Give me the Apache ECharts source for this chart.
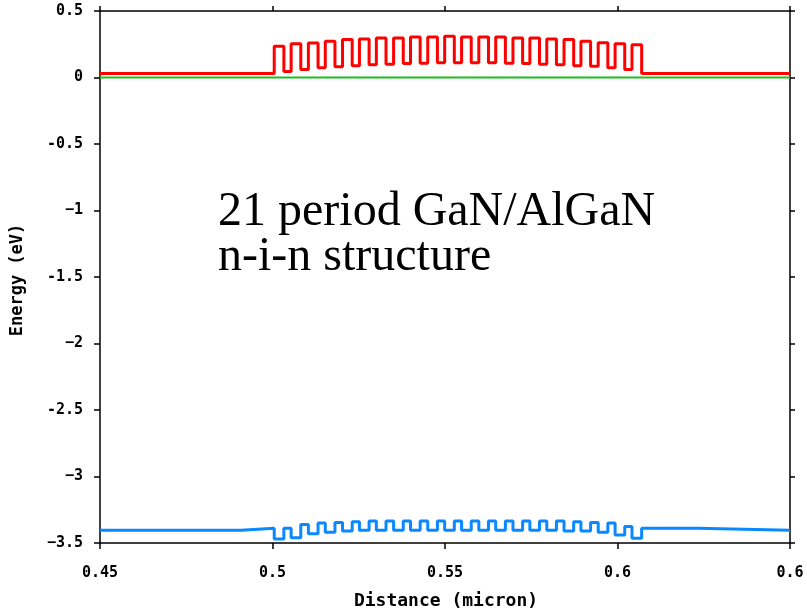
<!DOCTYPE html>
<html><head><meta charset="utf-8">
<script src="https://cdn.jsdelivr.net/npm/echarts@6/dist/echarts.min.js"></script>
<style>html,body{margin:0;padding:0;background:#fff}#c{width:807px;height:611px}</style>
</head><body><div id="c"></div><script>
// axes
const xTicks = [0.45, 0.5, 0.55, 0.6, 0.65];
const xTickLabels = ['0.45', '0.5', '0.55', '0.6', '0.6'];
const yTicks = [0.5, 0, -0.5, -1, -1.5, -2, -2.5, -3, -3.5];
const yTickLabels = ['0.5', '0', '-0.5', '\u22121', '-1.5', '\u22122', '-2.5', '\u22123', '\u22123.5'];

// structure geometry (micron)
const barrierStart = [0.5005, 0.5054, 0.5104, 0.5153, 0.5203, 0.5252, 0.5301, 0.5351, 0.5400, 0.5450, 0.5499,
                      0.5548, 0.5598, 0.5647, 0.5697, 0.5746, 0.5795, 0.5845, 0.5894, 0.5944, 0.5993, 0.6042];
const barrierWidth = 0.0028;

// conduction band (eV)
const cbBase = 0.03;
const cbBarrier = [0.235, 0.253, 0.26, 0.272, 0.285, 0.29, 0.297, 0.297, 0.305, 0.305, 0.31,
                   0.305, 0.305, 0.305, 0.297, 0.297, 0.29, 0.285, 0.272, 0.262, 0.253, 0.247];
const cbWell = [0.045, 0.06, 0.073, 0.08, 0.088, 0.095, 0.1, 0.105, 0.108, 0.11, 0.11,
                0.11, 0.11, 0.108, 0.105, 0.1, 0.095, 0.088, 0.085, 0.073, 0.06];

// valence band (eV)
const vbOuter = -3.405;
const vbInner = -3.39;
const vbInnerStart = 0.4909;
const vbInnerEnd = 0.6233;
const vbBarrier = [-3.47, -3.46, -3.43, -3.42, -3.41, -3.405, -3.405, -3.405, -3.405, -3.405, -3.405,
                   -3.405, -3.405, -3.405, -3.405, -3.405, -3.405, -3.41, -3.41, -3.42, -3.44, -3.465];
const vbWell = [-3.39, -3.36, -3.35, -3.345, -3.34, -3.335, -3.335, -3.335, -3.335, -3.335, -3.335,
                -3.335, -3.335, -3.335, -3.335, -3.335, -3.335, -3.34, -3.345, -3.35, -3.375];

// Fermi level
const fermiLevel = 0;

const xMin = 0.45, xMax = 0.65, yMin = -3.5, yMax = 0.5;

// step points: [x, level] = level that starts at x
function bandSteps(rightLevel, barriers, wells) {
  const pts = [];
  for (let i = 0; i < barrierStart.length; i++) {
    pts.push([barrierStart[i], barriers[i]]);
    pts.push([barrierStart[i] + barrierWidth, i < wells.length ? wells[i] : rightLevel]);
  }
  return pts;
}

const cbData = [[xMin, cbBase]].concat(bandSteps(cbBase, cbBarrier, cbWell), [[xMax, cbBase]]);
const vbData = [[xMin, vbOuter], [vbInnerStart, vbInner]]
  .concat(bandSteps(vbInner, vbBarrier, vbWell), [[vbInnerEnd, vbOuter], [xMax, vbOuter]]);
const fermiData = [[xMin, fermiLevel], [xMax, fermiLevel]];

const mono = '"DejaVu Sans Mono", "Liberation Mono", monospace';
const lineStyleAxis = { color: '#000', width: 1.5 };
function lbl(ticks, labels) {
  return v => { const i = ticks.findIndex(t => Math.abs(t - v) < 1e-9); return i >= 0 ? labels[i] : ''; };
}

const chart = echarts.init(document.getElementById('c'), null, { renderer: 'canvas' });
chart.setOption({
  animation: false,
  backgroundColor: '#fff',
  grid: { left: 100, right: 17, top: 11, bottom: 68 },
  xAxis: [
    { type: 'value', min: xMin, max: xMax, position: 'bottom',
      axisLine: { show: true, onZero: false, lineStyle: lineStyleAxis },
      axisTick: { show: true, length: 6, customValues: xTicks, lineStyle: lineStyleAxis },
      axisLabel: { customValues: xTicks, formatter: lbl(xTicks, xTickLabels), margin: 23,
                   fontFamily: mono, fontWeight: 'bold', fontSize: 15, color: '#000' },
      splitLine: { show: false } },
    { type: 'value', min: xMin, max: xMax, position: 'top',
      axisLine: { show: true, onZero: false, lineStyle: lineStyleAxis },
      axisTick: { show: true, length: 5, customValues: xTicks, lineStyle: lineStyleAxis },
      axisLabel: { show: false }, splitLine: { show: false } }
  ],
  yAxis: [
    { type: 'value', min: yMin, max: yMax, position: 'left',
      axisLine: { show: true, onZero: false, lineStyle: lineStyleAxis },
      axisTick: { show: true, length: 6, customValues: yTicks, lineStyle: lineStyleAxis },
      axisLabel: { customValues: yTicks, formatter: lbl(yTicks, yTickLabels), margin: 17,
                   fontFamily: mono, fontWeight: 'bold', fontSize: 15, color: '#000' },
      splitLine: { show: false } },
    { type: 'value', min: yMin, max: yMax, position: 'right',
      axisLine: { show: true, onZero: false, lineStyle: lineStyleAxis },
      axisTick: { show: true, length: 5, customValues: yTicks, lineStyle: lineStyleAxis },
      axisLabel: { show: false }, splitLine: { show: false } }
  ],
  series: [
    { type: 'line', data: fermiData, symbol: 'none', lineStyle: { color: '#1bbf1b', width: 2 }, z: 2 },
    { type: 'line', data: cbData, step: 'end', symbol: 'none', lineStyle: { color: '#ff0000', width: 3 }, z: 3 },
    { type: 'line', data: vbData, step: 'end', symbol: 'none', lineStyle: { color: '#0a88ff', width: 3 }, z: 3 }
  ],
  graphic: [
    { type: 'text', x: 446, y: 601, style: { text: 'Distance (micron)', font: 'bold 18px ' + mono,
      fill: '#000', align: 'center', verticalAlign: 'middle' } },
    { type: 'text', x: 18, y: 280, rotation: Math.PI / 2, style: { text: 'Energy (eV)', font: 'bold 17px ' + mono,
      fill: '#000', align: 'center', verticalAlign: 'middle' } },
    { type: 'text', x: 218, y: 212, style: { text: '21 period GaN/AlGaN', font: '48px "Liberation Serif", "Times New Roman", serif',
      fill: '#000', align: 'left', verticalAlign: 'middle' } },
    { type: 'text', x: 218, y: 257, style: { text: 'n-i-n structure', font: '48px "Liberation Serif", "Times New Roman", serif',
      fill: '#000', align: 'left', verticalAlign: 'middle' } }
  ]
});
</script></body></html>
